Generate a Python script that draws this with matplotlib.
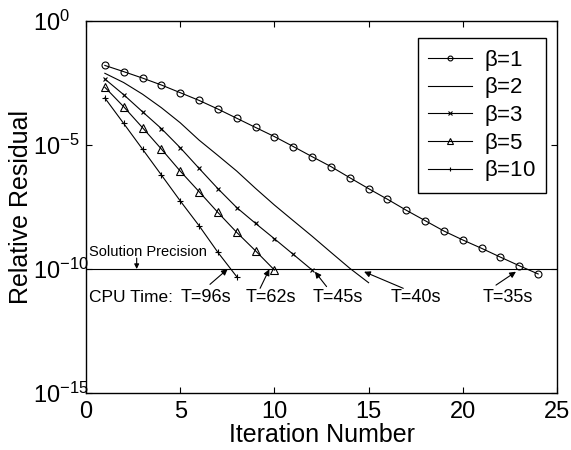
import numpy as np
import matplotlib
matplotlib.use("Agg")
import matplotlib.pyplot as plt

plt.rcParams['font.family'] = ['Liberation Sans', 'DejaVu Sans']
plt.rcParams['mathtext.fontset'] = 'custom'
plt.rcParams['mathtext.rm'] = 'Liberation Sans'
plt.rcParams['mathtext.it'] = 'Liberation Sans'

# relative residual per iteration
it_b1 = np.arange(1, 25)
res_b1 = [1.62e-2, 9.1e-3, 5.0e-3, 2.63e-3, 1.29e-3, 6.3e-4, 2.82e-4, 1.20e-4,
          5.1e-5, 2.19e-5, 8.7e-6, 3.39e-6, 1.35e-6, 4.8e-7, 1.74e-7, 6.5e-8,
          2.34e-8, 8.9e-9, 3.39e-9, 1.48e-9, 6.8e-10, 3.0e-10, 1.35e-10, 6.3e-11]
it_b2 = np.arange(1, 16)
res_b2 = [7.8e-3, 3.3e-3, 1.12e-3, 3.2e-4, 7.9e-5, 1.58e-5, 3.8e-6, 8.9e-7,
          1.78e-7, 3.8e-8, 8.9e-9, 2.1e-9, 4.7e-10, 1.07e-10, 2.8e-11]
it_b3 = np.arange(1, 13)
res_b3 = [4.6e-3, 1.07e-3, 2.19e-4, 4.6e-5, 7.8e-6, 1.15e-6, 1.74e-7, 3.0e-8,
          6.9e-9, 1.66e-9, 3.9e-10, 9.1e-11]
it_b5 = np.arange(1, 11)
res_b5 = [2.14e-3, 3.5e-4, 5.0e-5, 6.9e-6, 8.9e-7, 1.32e-7, 1.91e-8, 3.0e-9,
          5.4e-10, 9.1e-11]
it_b10 = np.arange(1, 9)
res_b10 = [7.9e-4, 7.4e-5, 6.8e-6, 6.2e-7, 5.6e-8, 5.6e-9, 4.7e-10, 4.9e-11]

precision = 1e-10
cpu_labels = ['T=96s', 'T=62s', 'T=45s', 'T=40s', 'T=35s']
ytick_vals = [1e-15, 1e-10, 1e-5, 1e0]
ytick_labels = [r'$10^{-15}$', r'$10^{-10}$', r'$10^{-5}$', r'$10^{0}$']

fig = plt.figure(figsize=(5.71, 4.5), dpi=100)
ax = fig.add_axes([0.1506, 0.1267, 0.8249, 0.8266])

lw = 0.8
ax.semilogy(it_b1, res_b1, 'k-', marker='o', mfc='none', ms=5, mew=0.8, lw=lw, label=r'$\beta$=1')
ax.semilogy(it_b2, res_b2, 'k-', lw=lw, label=r'$\beta$=2')
ax.semilogy(it_b3, res_b3, 'k-', marker='x', ms=3.5, mew=0.8, lw=lw, label=r'$\beta$=3')
ax.semilogy(it_b5, res_b5, 'k-', marker='^', mfc='none', ms=5.5, mew=0.8, lw=lw, label=r'$\beta$=5')
ax.semilogy(it_b10, res_b10, 'k-', marker='+', ms=5, mew=0.8, lw=lw, label=r'$\beta$=10')
ax.axhline(precision, color='k', lw=lw)

ax.set_xlim(0, 25)
ax.set_ylim(1e-15, 1e0)
ax.set_xticks([0, 5, 10, 15, 20, 25])
ax.set_yticks(ytick_vals)
ax.minorticks_off()
ax.tick_params(which='both', direction='in', top=True, right=True, length=4, width=0.8)
ax.tick_params(axis='x', labelsize=17, pad=6)
ax.tick_params(axis='y', labelleft=False)
for s in ax.spines.values():
    s.set_linewidth(1.0)

# MATLAB-style y labels: the "10" of every label starts at the same x
for v, lab in zip(ytick_vals, ytick_labels):
    ax.text(-0.1125, v, lab, transform=ax.get_yaxis_transform(), fontsize=17,
            ha='left', va='center_baseline')

ax.set_xlabel('Iteration Number', fontsize=18)
ax.set_ylabel('Relative Residual', fontsize=18)
ax.xaxis.set_label_coords(0.5, -0.08)
ax.yaxis.set_label_coords(-0.112, 0.5)

# precision line note
ax.text(0.14, 10**-9.33, 'Solution Precision', fontsize=10.5, va='center', ha='left')
ax.annotate('', xy=(2.69, precision), xytext=(2.69, 10**-9.56),
            arrowprops=dict(arrowstyle='-|>', color='k', lw=0.8, mutation_scale=7,
                            shrinkA=0, shrinkB=0))

# cpu times
ty = 10**-11.13
ax.text(0.14, ty, 'CPU Time:', fontsize=12.5, va='center', ha='left')
text_x = [6.37, 9.82, 13.35, 17.49, 22.37]
tips = [(7.52, -10.0), (9.73, -10.01), (12.15, -10.11), (14.76, -10.11), (22.82, -10.11)]
tails = [(6.58, -10.62), (9.24, -10.78), (12.77, -10.71), (16.84, -10.78), (21.76, -10.65)]
for lab, tx, tip, tail in zip(cpu_labels, text_x, tips, tails):
    ax.text(tx, ty, lab, fontsize=13, va='center', ha='center')
    ax.annotate('', xy=(tip[0], 10**tip[1]), xytext=(tail[0], 10**tail[1]),
                arrowprops=dict(arrowstyle='-|>', color='k', lw=0.8, mutation_scale=9,
                                shrinkA=0, shrinkB=0))

leg = ax.legend(loc='upper right', bbox_to_anchor=(0.977, 0.955), borderaxespad=0,
                fontsize=16, fancybox=False, edgecolor='k', framealpha=1,
                handlelength=2.0, handletextpad=0.55, labelspacing=0.12,
                borderpad=0.45, markerscale=0.7)
leg.get_frame().set_linewidth(1.0)

fig.savefig('out.png', dpi=100)
